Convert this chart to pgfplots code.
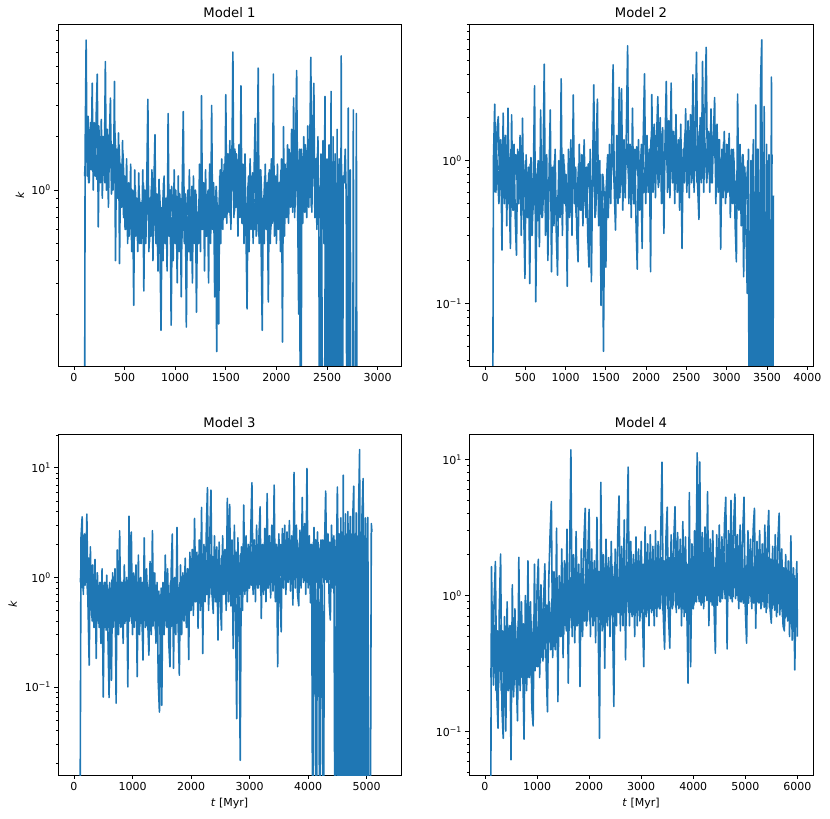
\documentclass[border=0pt]{standalone}
\usepackage{fontspec}
\setmainfont{DejaVu Sans}
\usepackage{pgfplots}
\pgfplotsset{compat=1.18}
\definecolor{mplblue}{HTML}{1F77B4}
\pgfplotsset{
    scale only axis,
    axis line style={line width=0.86pt},
    tick style={black, line width=0.86pt},
    minor tick style={black, line width=0.65pt},
    tick align=outside,
    tick pos=left,
    major tick length=3.76pt,
    minor tick length=2.15pt,
    tick label style={font=\fontsize{11}{13}\selectfont},
    every axis title/.style={at={(0.5,1)}, anchor=base, yshift=6.45pt, font=\fontsize{13.2}{15}\selectfont},
    /pgf/number format/assume math mode=true,
    /pgf/number format/1000 sep={},
    unbounded coords=jump,
}
\pgfplotsset{kline/.style={mplblue, line width=1.6pt, line join=round, mark=none}}
\begin{document}
\begin{tikzpicture}
% ---------------- Model 1 ----------------
\begin{axis}[ymode=log, at={(58pt,795pt)}, anchor=north west, width=343pt, height=342pt,
  minor ytick={0.01,0.02,0.03,0.04,0.05,0.06,0.07,0.08,0.09,0.2,0.3,0.4,0.5,0.6,0.7,0.8,0.9,2,3,4,5,6,7,8,9,20,30,40},
  title={Model 1}, xmin=-158, xmax=3231, ymin=0.102, ymax=8.63,
  xtick={0,500,1000,1500,2000,2500,3000},
  ytick={1}, yticklabels={10\textsuperscript{0}},
  ylabel={\textit{k}},
  every axis y label/.style={at={(axis description cs:-0.111,0.5)}, rotate=90, anchor=center, font=\fontsize{11}{13}\selectfont}]
\addplot[kline] coordinates {
(100,0.001)(110,1.6)(120,7.0)(130,1.2)(140,2.6)(150,1.1)(160,2.2)(170,1.3)(180,4.0)(190,1.0)
(200,2.4)(210,1.2)(220,2.7)(230,4.5)(240,0.62)(250,1.9)(260,1.1)(270,2.5)(280,0.9)(290,2.0)
(300,1.3)(310,5.3)(320,1.0)(330,2.2)(340,0.8)(350,1.9)(360,3.3)(370,0.95)(380,1.8)(390,1.1)
(400,4.1)(410,0.4)(420,1.7)(430,0.9)(440,2.1)(450,0.385)(460,1.4)(470,0.8)(480,1.9)(490,0.7)
(500,1.2)(510,0.6)(520,1.5)(530,0.5)(540,1.1)(550,0.65)(560,1.4)(570,0.45)(580,1.0)(590,0.224)
(600,1.3)(610,0.55)(620,0.9)(630,0.45)(640,1.25)(650,0.5)(660,0.85)(670,0.6)(680,1.3)(690,0.27)
(700,1.0)(710,0.5)(720,1.2)(730,3.25)(740,0.45)(750,0.9)(760,0.55)(770,1.3)(780,0.4)(790,1.1)
(800,2.05)(810,0.5)(820,0.95)(830,0.35)(840,1.15)(850,0.45)(860,0.162)(870,0.8)(880,0.4)(890,1.2)
(900,0.5)(910,0.9)(920,0.35)(930,2.7)(940,0.55)(950,1.0)(960,0.173)(970,0.7)(980,0.4)(990,1.3)
(1000,0.5)(1010,0.85)(1020,0.3)(1030,1.2)(1040,0.45)(1050,0.9)(1060,0.25)(1070,1.1)(1080,2.77)(1090,0.5)
(1100,0.95)(1110,0.169)(1120,0.7)(1130,0.45)(1140,1.3)(1150,0.4)(1160,0.9)(1170,0.3)(1180,1.2)(1190,0.5)
(1200,1.0)(1210,0.205)(1220,0.75)(1230,0.5)(1240,1.4)(1250,0.45)(1260,3.4)(1270,0.6)(1280,1.1)(1290,0.35)
(1300,1.3)(1310,0.55)(1320,0.95)(1330,0.3)(1340,1.4)(1350,0.5)(1360,3.0)(1370,0.6)(1380,1.1)(1390,0.25)
(1400,0.9)(1410,0.123)(1420,0.7)(1430,0.176)(1440,1.2)(1450,0.5)(1460,1.5)(1470,0.6)(1480,1.2)(1490,0.7)
(1500,3.45)(1510,0.65)(1520,1.6)(1530,0.75)(1540,1.9)(1550,0.6)(1560,1.4)(1570,6.0)(1580,0.7)(1590,1.7)
(1600,0.8)(1610,1.5)(1620,0.55)(1630,1.8)(1640,0.7)(1650,3.87)(1660,0.65)(1670,1.4)(1680,0.5)(1690,1.6)
(1700,0.55)(1710,0.214)(1720,1.1)(1730,0.45)(1740,1.5)(1750,0.6)(1760,1.2)(1770,0.5)(1780,1.3)(1790,2.54)
(1800,0.55)(1810,1.1)(1820,4.87)(1830,0.5)(1840,1.3)(1850,0.45)(1860,0.162)(1870,0.9)(1880,0.5)(1890,1.4)
(1900,0.6)(1910,1.1)(1920,0.234)(1930,1.3)(1940,0.5)(1950,1.5)(1960,0.65)(1970,4.5)(1980,0.55)(1990,1.2)
(2000,0.5)(2010,1.4)(2020,0.6)(2030,1.1)(2040,0.45)(2050,1.5)(2060,0.139)(2070,2.28)(2080,0.55)(2090,1.3)
(2100,0.7)(2110,1.8)(2120,0.65)(2130,1.5)(2140,0.8)(2150,2.2)(2160,0.75)(2170,3.3)(2180,0.7)(2190,1.9)
(2200,4.72)(2210,0.8)(2220,0.2)(2230,1.7)(2240,0.001)(2250,1.5)(2260,0.65)(2270,2.0)(2280,0.75)(2290,1.6)
(2300,0.7)(2310,2.3)(2320,0.8)(2330,1.8)(2340,5.6)(2350,0.75)(2360,1.9)(2370,4.0)(2380,0.7)(2390,1.5)
(2400,0.6)(2410,2.0)(2420,0.55)(2430,0.001)(2440,1.6)(2450,0.6)(2460,1.9)(2470,0.5)(2480,3.37)(2490,0.001)
(2500,1.5)(2510,0.001)(2520,1.8)(2530,0.001)(2540,3.6)(2550,0.001)(2560,2.0)(2570,0.001)(2580,1.6)(2590,0.001)
(2600,2.2)(2610,0.001)(2620,1.5)(2630,0.001)(2640,5.7)(2650,0.001)(2660,1.2)(2670,1.1)(2680,1.7)(2690,0.9)
(2700,0.001)(2710,2.9)(2720,0.001)(2730,1.3)(2740,0.001)(2750,0.001)(2760,2.83)(2770,0.001)(2780,0.001)(2790,2.7)
(2800,0.001)(2800,nan)
(105,1.2)(125,2.2)(145,1.1)(165,2.4)(185,1.3)(205,2.1)(225,1.15)(245,2.3)(265,1.2)(285,2.0)
(305,1.1)(325,2.2)(345,1.25)(365,1.9)(385,1.0)(405,2.1)(425,1.05)(445,1.8)(465,0.9)(485,1.6)
(505,0.6)(525,1.1)(545,0.55)(565,1.0)(585,0.5)(605,1.05)(625,0.55)(645,0.95)(665,0.5)(685,1.1)
(705,0.6)(725,1.0)(745,0.5)(765,1.05)(785,0.55)(805,0.95)(825,0.48)(845,1.0)(865,0.52)(885,1.1)
(905,0.5)(925,0.95)(945,0.55)(965,1.05)(985,0.5)(1005,1.0)(1025,0.55)(1045,0.95)(1065,0.5)(1085,1.1)
(1105,0.55)(1125,1.0)(1145,0.5)(1165,1.05)(1185,0.55)(1205,0.95)(1225,0.5)(1245,1.1)(1265,0.6)(1285,1.05)
(1305,0.55)(1325,1.0)(1345,0.6)(1365,1.1)(1385,0.55)(1405,1.05)(1425,0.6)(1445,1.3)(1465,0.7)(1485,1.4)
(1505,0.75)(1525,1.5)(1545,0.7)(1565,1.45)(1585,0.75)(1605,1.6)(1625,0.7)(1645,1.4)(1665,0.65)(1685,1.35)
(1705,0.6)(1725,1.2)(1745,0.65)(1765,1.25)(1785,0.6)(1805,1.2)(1825,0.55)(1845,1.3)(1865,0.6)(1885,1.2)
(1905,0.65)(1925,1.25)(1945,0.6)(1965,1.3)(1985,0.6)(2005,1.2)(2025,0.65)(2045,1.3)(2065,0.6)(2085,1.4)
(2105,0.8)(2125,1.7)(2145,0.85)(2165,1.8)(2185,0.8)(2205,1.9)(2225,0.75)(2245,1.7)(2265,0.8)(2285,1.8)
(2305,0.85)(2325,1.9)(2345,0.8)(2365,1.7)(2385,0.75)(2405,1.6)(2425,0.7)(2445,1.5)(2465,0.001)(2485,1.4)
(2505,0.001)(2525,1.3)(2545,0.001)(2565,1.45)(2585,0.001)(2605,1.3)(2625,0.001)(2645,1.4)
};
\end{axis}
% ---------------- Model 2 ----------------
\begin{axis}[ymode=log, at={(469pt,795pt)}, anchor=north west, width=344pt, height=342pt,
  minor ytick={0.01,0.02,0.03,0.04,0.05,0.06,0.07,0.08,0.09,0.2,0.3,0.4,0.5,0.6,0.7,0.8,0.9,2,3,4,5,6,7,8,9,20,30,40},
  title={Model 2}, xmin=-199, xmax=4071, ymin=0.0366, ymax=9.03,
  xtick={0,500,1000,1500,2000,2500,3000,3500,4000},
  ytick={0.1,1}, yticklabels={10\textsuperscript{−1},10\textsuperscript{0}}]
\addplot[kline] coordinates {
(90,0.001)(105,1.05)(120,2.48)(135,0.6)(150,1.7)(165,2.03)(180,0.7)(195,1.4)(210,0.237)(225,2.15)
(240,0.5)(255,1.5)(270,0.35)(285,2.33)(300,0.6)(315,0.243)(330,2.09)(345,0.45)(360,1.3)(375,0.4)
(390,0.218)(405,1.2)(420,0.5)(435,1.5)(450,0.3)(465,1.98)(480,0.45)(495,0.15)(510,1.1)(525,0.4)
(540,0.9)(555,0.138)(570,1.05)(585,0.3)(600,0.8)(615,3.34)(630,0.103)(645,0.7)(660,1.0)(675,0.25)
(690,2.26)(705,0.4)(720,0.9)(735,4.73)(750,0.3)(765,1.1)(780,0.2)(795,0.8)(810,2.26)(825,0.167)
(840,0.9)(855,0.35)(870,1.2)(885,0.3)(900,0.158)(915,1.0)(930,0.4)(945,3.74)(960,0.3)(975,1.1)
(990,0.5)(1005,0.8)(1020,0.132)(1035,1.2)(1050,0.4)(1065,1.4)(1080,0.3)(1095,2.88)(1110,0.5)(1125,0.9)
(1140,0.3)(1155,0.196)(1170,1.3)(1185,0.45)(1200,1.1)(1215,0.35)(1230,1.4)(1245,0.5)(1260,0.9)(1275,0.3)
(1290,0.18)(1305,1.2)(1320,0.142)(1335,0.8)(1350,3.39)(1365,0.4)(1380,1.3)(1395,2.69)(1410,0.35)(1425,1.0)
(1440,0.097)(1455,0.8)(1470,0.0464)(1485,0.6)(1500,0.18)(1515,0.9)(1530,0.4)(1545,1.3)(1560,0.5)(1575,1.6)
(1590,4.68)(1605,0.6)(1620,0.327)(1635,1.5)(1650,0.5)(1665,3.26)(1680,0.6)(1695,3.18)(1710,0.45)(1725,1.4)
(1740,0.55)(1755,1.7)(1770,6.36)(1785,0.5)(1800,1.3)(1815,0.4)(1830,2.33)(1845,0.5)(1860,1.2)(1875,0.35)
(1890,0.174)(1905,1.4)(1920,0.45)(1935,1.1)(1950,0.243)(1965,1.6)(1980,4.05)(1995,0.5)(2010,1.5)(2025,0.6)
(2040,1.2)(2055,0.167)(2070,2.9)(2085,0.6)(2100,1.8)(2115,0.55)(2130,1.5)(2145,2.8)(2160,0.7)(2175,2.0)
(2190,0.5)(2205,1.7)(2220,0.31)(2235,1.4)(2250,3.58)(2265,0.6)(2280,1.9)(2295,0.55)(2310,3.49)(2325,0.7)
(2340,1.6)(2355,0.5)(2370,2.1)(2385,0.6)(2400,1.4)(2415,0.45)(2430,1.8)(2445,0.243)(2460,1.2)(2475,0.7)
(2490,2.3)(2505,0.6)(2520,1.9)(2535,0.55)(2550,2.1)(2565,0.7)(2580,3.98)(2595,0.6)(2610,1.9)(2625,5.74)
(2640,0.65)(2655,0.388)(2670,2.0)(2685,0.7)(2700,4.94)(2715,0.6)(2730,2.2)(2745,6.2)(2760,0.8)(2775,1.6)
(2790,0.6)(2805,2.3)(2820,0.7)(2835,1.5)(2850,2.76)(2865,0.5)(2880,1.8)(2895,0.6)(2910,1.4)(2925,0.24)
(2940,1.2)(2955,0.55)(2970,1.6)(2985,0.5)(3000,1.3)(3015,0.6)(3030,1.55)(3045,0.4)(3060,1.2)(3075,0.5)
(3090,1.0)(3105,0.35)(3120,0.196)(3135,2.92)(3150,0.45)(3165,1.3)(3180,0.35)(3195,1.1)(3210,0.154)(3225,0.9)
(3240,0.3)(3255,0.118)(3270,1.2)(3285,0.001)(3300,1.0)(3315,0.001)(3330,1.4)(3345,0.001)(3360,2.45)(3375,0.001)
(3390,1.2)(3405,0.001)(3420,3.52)(3435,7.0)(3450,0.001)(3465,2.39)(3480,0.001)(3495,1.3)(3510,0.001)(3525,1.1)
(3540,0.001)(3555,3.84)(3570,0.001)(3580,0.57)(3580,nan)
(112,0.6)(142,1.2)(172,0.5)(202,1.3)(232,0.55)(262,1.1)(292,0.5)(322,1.2)(352,0.45)(382,1.1)
(412,0.5)(442,1.15)(472,0.45)(502,1.0)(532,0.4)(562,0.95)(592,0.42)(622,0.9)(652,0.38)(682,1.0)
(712,0.4)(742,0.95)(772,0.35)(802,0.9)(832,0.4)(862,1.0)(892,0.38)(922,0.9)(952,0.42)(982,0.95)
(1012,0.4)(1042,1.0)(1072,0.45)(1102,1.05)(1132,0.4)(1162,0.95)(1192,0.45)(1222,1.1)(1252,0.4)(1282,0.95)
(1312,0.38)(1342,1.0)(1372,0.42)(1402,1.05)(1432,0.35)(1462,0.8)(1492,0.45)(1522,1.1)(1552,0.55)(1582,1.3)
(1612,0.5)(1642,1.25)(1672,0.55)(1702,1.35)(1732,0.6)(1762,1.3)(1792,0.55)(1822,1.2)(1852,0.5)(1882,1.25)
(1912,0.55)(1942,1.3)(1972,0.6)(2002,1.4)(2032,0.65)(2062,1.45)(2092,0.7)(2122,1.5)(2152,0.65)(2182,1.55)
(2212,0.7)(2242,1.5)(2272,0.65)(2302,1.6)(2332,0.7)(2362,1.5)(2392,0.65)(2422,1.45)(2452,0.7)(2482,1.55)
(2512,0.7)(2542,1.6)(2572,0.75)(2602,1.7)(2632,0.7)(2662,1.6)(2692,0.75)(2722,1.65)(2752,0.7)(2782,1.55)
(2812,0.7)(2842,1.5)(2872,0.65)(2902,1.4)(2932,0.6)(2962,1.35)(2992,0.55)(3022,1.3)(3052,0.5)(3082,1.2)
(3112,0.5)(3142,1.15)(3172,0.45)(3202,1.1)(3232,0.45)(3262,1.0)(3292,0.001)(3322,1.1)(3352,0.001)(3382,1.2)
(3412,0.001)(3442,1.15)(3472,0.001)(3502,1.0)(3532,0.001)(3562,1.1)
};
\end{axis}
% ---------------- Model 3 ----------------
\begin{axis}[ymode=log, at={(58pt,385pt)}, anchor=north west, width=343pt, height=341pt,
  minor ytick={0.01,0.02,0.03,0.04,0.05,0.06,0.07,0.08,0.09,0.2,0.3,0.4,0.5,0.6,0.7,0.8,0.9,2,3,4,5,6,7,8,9,20,30,40},
  title={Model 3}, xmin=-273, xmax=5587, ymin=0.0157, ymax=20.4,
  xtick={0,1000,2000,3000,4000,5000},
  ytick={0.1,1,10}, yticklabels={10\textsuperscript{−1},10\textsuperscript{0},10\textsuperscript{1}},
  ylabel={\textit{k}}, xlabel={\textit{t} [Myr]},
  every axis y label/.style={at={(axis description cs:-0.132,0.5)}, rotate=90, anchor=center, font=\fontsize{11}{13}\selectfont},
  every axis x label/.style={at={(axis description cs:0.5,-0.082)}, anchor=center, font=\fontsize{11}{13}\selectfont}]
\addplot[kline] coordinates {
(100,0.001)(120,2.3)(140,3.58)(160,0.7)(180,2.5)(200,0.9)(220,3.79)(240,0.55)(260,0.158)(280,1.9)
(300,0.5)(320,1.3)(340,0.35)(360,1.46)(380,0.182)(400,1.1)(420,0.4)(440,0.9)(460,0.25)(480,1.2)
(500,0.081)(520,0.9)(540,0.35)(560,1.05)(580,0.3)(600,0.08)(620,0.8)(640,0.115)(660,1.1)(680,0.4)
(700,1.2)(720,0.071)(740,1.78)(760,0.3)(780,2.67)(800,0.35)(820,0.9)(840,0.25)(860,1.3)(880,0.4)
(900,1.0)(920,0.1)(940,3.63)(960,0.5)(980,2.6)(1000,0.3)(1020,1.1)(1040,0.4)(1060,1.3)(1080,0.124)
(1100,1.6)(1120,0.3)(1140,1.0)(1160,0.45)(1180,0.176)(1200,2.3)(1220,0.35)(1240,1.2)(1260,0.4)(1280,0.195)
(1300,1.4)(1320,0.3)(1340,2.67)(1360,0.4)(1380,1.1)(1400,0.25)(1420,0.9)(1440,0.111)(1460,0.059)(1480,0.6)
(1500,0.068)(1520,0.9)(1540,0.3)(1560,1.6)(1580,0.4)(1600,1.2)(1620,0.25)(1640,0.153)(1660,1.1)(1680,2.49)
(1700,0.148)(1720,1.0)(1740,0.3)(1760,2.86)(1780,0.35)(1800,0.128)(1820,1.3)(1840,0.3)(1860,1.1)(1880,0.4)
(1900,1.5)(1920,0.35)(1940,1.2)(1960,0.178)(1980,1.7)(2000,0.5)(2020,1.8)(2040,0.45)(2060,3.46)(2080,0.6)
(2100,1.7)(2120,0.343)(2140,2.2)(2160,0.5)(2180,4.36)(2200,0.202)(2220,2.0)(2240,0.6)(2260,2.5)(2280,6.6)
(2300,0.5)(2320,2.3)(2340,6.27)(2360,0.7)(2380,0.469)(2400,2.4)(2420,0.6)(2440,1.9)(2460,0.268)(2480,2.1)
(2500,0.6)(2520,0.33)(2540,2.4)(2560,0.7)(2580,1.8)(2600,0.5)(2620,5.27)(2640,0.6)(2660,4.64)(2680,0.55)
(2700,2.2)(2720,0.224)(2740,3.0)(2760,0.5)(2780,0.0513)(2800,2.3)(2820,0.6)(2840,0.0214)(2860,1.9)(2880,0.5)
(2900,4.58)(2920,0.7)(2940,2.4)(2960,0.6)(2980,2.0)(3000,0.8)(3020,2.6)(3040,7.33)(3060,0.7)(3080,2.2)
(3100,0.6)(3120,3.0)(3140,0.8)(3160,2.3)(3180,4.42)(3200,0.422)(3220,2.0)(3240,0.7)(3260,2.8)(3280,0.6)
(3300,5.84)(3320,0.8)(3340,2.4)(3360,0.65)(3380,3.0)(3400,0.75)(3420,6.97)(3440,0.6)(3460,2.0)(3480,0.153)
(3500,2.5)(3520,0.7)(3540,0.319)(3560,2.8)(3580,0.8)(3600,3.0)(3620,0.7)(3640,2.6)(3660,0.9)(3680,3.3)
(3700,0.75)(3720,2.4)(3740,0.559)(3760,9.1)(3780,0.8)(3800,3.0)(3820,0.7)(3840,0.55)(3860,2.7)(3880,0.8)
(3900,5.38)(3920,0.9)(3940,3.1)(3960,0.7)(3980,9.9)(4000,0.8)(4020,2.4)(4040,0.587)(4060,2.0)(4080,0.001)
(4100,2.86)(4120,0.9)(4140,0.001)(4160,2.6)(4180,0.8)(4200,0.001)(4220,2.2)(4240,0.7)(4260,0.001)(4280,1.8)
(4300,6.14)(4320,0.9)(4340,2.5)(4360,0.6)(4380,0.408)(4400,3.0)(4420,0.8)(4440,2.4)(4460,0.001)(4480,0.9)
(4500,6.7)(4520,0.6)(4540,0.001)(4560,3.5)(4580,0.001)(4600,8.6)(4620,0.001)(4640,3.8)(4660,0.001)(4680,4.0)
(4700,0.001)(4720,3.6)(4740,0.001)(4760,3.2)(4780,6.8)(4800,0.001)(4820,3.9)(4840,0.001)(4860,3.4)(4880,14.7)
(4900,0.001)(4920,3.6)(4940,8.0)(4960,0.001)(4980,3.5)(5000,0.001)(5020,3.53)(5040,0.001)(5060,0.001)(5080,3.1)
(5090,2.6)(5090,nan)
(110,0.9)(130,2.0)(150,0.8)(170,2.1)(190,0.85)(210,1.9)(230,0.7)(250,1.5)(270,0.45)(290,1.1)
(310,0.4)(330,0.95)(350,0.35)(370,0.9)(390,0.38)(410,0.85)(430,0.35)(450,0.9)(470,0.32)(490,0.85)
(510,0.35)(530,0.9)(550,0.33)(570,0.85)(590,0.35)(610,0.9)(630,0.38)(650,0.95)(670,0.35)(690,0.9)
(710,0.33)(730,0.85)(750,0.36)(770,0.95)(790,0.38)(810,0.9)(830,0.35)(850,0.95)(870,0.38)(890,0.9)
(910,0.35)(930,0.95)(950,0.4)(970,1.0)(990,0.38)(1010,0.9)(1030,0.35)(1050,0.95)(1070,0.38)(1090,0.9)
(1110,0.35)(1130,0.85)(1150,0.38)(1170,0.9)(1190,0.4)(1210,0.95)(1230,0.36)(1250,0.9)(1270,0.38)(1290,0.95)
(1310,0.4)(1330,1.0)(1350,0.36)(1370,0.9)(1390,0.33)(1410,0.85)(1430,0.3)(1450,0.75)(1470,0.3)(1490,0.8)
(1510,0.33)(1530,0.85)(1550,0.36)(1570,0.9)(1590,0.35)(1610,0.85)(1630,0.33)(1650,0.9)(1670,0.36)(1690,0.95)
(1710,0.35)(1730,0.9)(1750,0.38)(1770,0.95)(1790,0.36)(1810,0.9)(1830,0.4)(1850,1.0)(1870,0.42)(1890,1.05)
(1910,0.45)(1930,1.1)(1950,0.48)(1970,1.2)(1990,0.5)(2010,1.3)(2030,0.55)(2050,1.4)(2070,0.6)(2090,1.5)
(2110,0.6)(2130,1.55)(2150,0.65)(2170,1.6)(2190,0.6)(2210,1.5)(2230,0.65)(2250,1.6)(2270,0.7)(2290,1.7)
(2310,0.65)(2330,1.6)(2350,0.7)(2370,1.55)(2390,0.65)(2410,1.5)(2430,0.6)(2450,1.45)(2470,0.6)(2490,1.5)
(2510,0.65)(2530,1.6)(2550,0.7)(2570,1.65)(2590,0.7)(2610,1.7)(2630,0.75)(2650,1.8)(2670,0.7)(2690,1.65)
(2710,0.65)(2730,1.6)(2750,0.7)(2770,1.7)(2790,0.65)(2810,1.6)(2830,0.7)(2850,1.65)(2870,0.75)(2890,1.7)
(2910,0.75)(2930,1.8)(2950,0.8)(2970,1.85)(2990,0.8)(3010,1.9)(3030,0.85)(3050,2.0)(3070,0.8)(3090,1.9)
(3110,0.85)(3130,2.0)(3150,0.8)(3170,1.95)(3190,0.75)(3210,1.9)(3230,0.8)(3250,2.0)(3270,0.85)(3290,2.1)
(3310,0.8)(3330,2.0)(3350,0.85)(3370,2.05)(3390,0.9)(3410,2.1)(3430,0.85)(3450,2.0)(3470,0.8)(3490,1.9)
(3510,0.85)(3530,2.0)(3550,0.9)(3570,2.1)(3590,0.95)(3610,2.2)(3630,0.9)(3650,2.1)(3670,0.95)(3690,2.2)
(3710,0.9)(3730,2.1)(3750,0.95)(3770,2.3)(3790,1.0)(3810,2.2)(3830,0.9)(3850,2.1)(3870,0.95)(3890,2.2)
(3910,1.0)(3930,2.3)(3950,0.95)(3970,2.2)(3990,0.9)(4010,2.1)(4030,0.85)(4050,2.0)(4070,0.8)(4090,2.1)
(4110,0.85)(4130,2.2)(4150,0.9)(4170,2.1)(4190,0.8)(4210,2.0)(4230,0.85)(4250,2.2)(4270,0.9)(4290,2.3)
(4310,0.95)(4330,2.2)(4350,0.9)(4370,2.1)(4390,0.85)(4410,2.3)(4430,0.9)(4450,2.2)(4470,0.85)(4490,2.4)
(4510,0.001)(4530,2.5)(4550,0.001)(4570,2.6)(4590,0.001)(4610,2.4)(4630,0.001)(4650,2.5)(4670,0.001)(4690,2.7)
(4710,0.001)(4730,2.5)(4750,0.001)(4770,2.6)(4790,0.001)(4810,2.5)(4830,0.001)(4850,2.4)(4870,0.001)(4890,2.6)
(4910,0.001)(4930,2.5)(4950,0.001)(4970,2.4)(4990,0.001)(5010,2.3)
};
\end{axis}
% ---------------- Model 4 ----------------
\begin{axis}[ymode=log, at={(469pt,385pt)}, anchor=north west, width=344pt, height=341pt,
  minor ytick={0.01,0.02,0.03,0.04,0.05,0.06,0.07,0.08,0.09,0.2,0.3,0.4,0.5,0.6,0.7,0.8,0.9,2,3,4,5,6,7,8,9,20,30,40},
  title={Model 4}, xmin=-307, xmax=6300, ymin=0.048, ymax=15.4,
  xtick={0,1000,2000,3000,4000,5000,6000},
  ytick={0.1,1,10}, yticklabels={10\textsuperscript{−1},10\textsuperscript{0},10\textsuperscript{1}},
  xlabel={\textit{t} [Myr]},
  every axis x label/.style={at={(axis description cs:0.5,-0.082)}, anchor=center, font=\fontsize{11}{13}\selectfont}]
\addplot[kline] coordinates {
(100,0.001)(125,1.63)(150,0.3)(175,0.9)(200,1.78)(225,0.2)(250,0.106)(275,0.8)(300,2.02)(325,0.15)
(350,0.0894)(375,0.7)(400,0.101)(425,0.9)(450,0.2)(475,0.6)(500,0.062)(525,1.2)(550,0.18)(575,0.8)
(600,0.25)(625,0.12)(650,1.91)(675,0.2)(700,0.9)(725,0.3)(750,0.088)(775,1.0)(800,0.2)(825,1.8)
(850,0.25)(875,0.9)(900,0.15)(925,0.11)(950,1.7)(975,0.3)(1000,1.1)(1025,1.85)(1050,0.25)(1075,1.2)
(1100,0.35)(1125,0.9)(1150,1.71)(1175,0.3)(1200,0.14)(1225,1.3)(1250,2.79)(1275,4.9)(1300,0.35)(1325,1.5)
(1350,0.4)(1375,3.13)(1400,0.166)(1425,1.4)(1450,0.5)(1475,2.2)(1500,0.35)(1525,1.8)(1550,0.6)(1575,3.07)
(1600,0.227)(1625,1.9)(1650,11.8)(1675,0.5)(1700,2.0)(1725,0.45)(1750,2.96)(1775,0.6)(1800,1.7)(1825,0.214)
(1850,2.2)(1875,0.5)(1900,2.5)(1925,4.38)(1950,0.6)(1975,1.9)(2000,4.3)(2025,0.5)(2050,2.2)(2075,0.6)
(2100,1.8)(2125,0.45)(2150,3.76)(2175,0.6)(2200,0.0894)(2225,6.8)(2250,0.55)(2275,2.0)(2300,0.292)(2325,2.6)
(2350,0.6)(2375,1.9)(2400,0.5)(2425,2.5)(2450,0.7)(2475,0.153)(2500,2.2)(2525,0.6)(2550,2.8)(2575,5.4)
(2600,0.55)(2625,2.3)(2650,0.6)(2675,3.6)(2700,0.337)(2725,2.4)(2750,8.8)(2775,0.6)(2800,2.5)(2825,0.7)
(2850,2.0)(2875,0.5)(2900,2.7)(2925,0.6)(2950,2.2)(2975,0.65)(3000,2.5)(3025,0.7)(3050,0.3)(3075,3.2)
(3100,0.7)(3125,2.4)(3150,0.6)(3175,2.8)(3200,0.75)(3225,2.3)(3250,0.6)(3275,3.0)(3300,0.7)(3325,2.5)
(3350,0.8)(3375,2.8)(3400,9.55)(3425,0.7)(3450,0.403)(3475,2.6)(3500,4.46)(3525,0.7)(3550,0.41)(3575,2.8)
(3600,0.8)(3625,2.5)(3650,4.5)(3675,0.75)(3700,2.9)(3725,0.8)(3750,2.6)(3775,0.6)(3800,3.5)(3825,0.7)
(3850,2.7)(3875,0.9)(3900,0.227)(3925,5.71)(3950,0.3)(3975,2.4)(4000,0.8)(4025,3.0)(4050,0.9)(4075,11.2)
(4100,1.0)(4125,9.6)(4150,0.85)(4175,2.9)(4200,0.8)(4225,3.2)(4250,1.0)(4275,5.8)(4300,0.6)(4325,2.6)
(4350,0.9)(4375,3.0)(4400,0.8)(4425,0.377)(4450,2.8)(4475,1.0)(4500,3.3)(4525,0.9)(4550,2.7)(4575,1.1)
(4600,3.4)(4625,5.28)(4650,0.405)(4675,3.0)(4700,1.0)(4725,5.0)(4750,0.9)(4775,3.2)(4800,5.58)(4825,1.0)
(4850,2.8)(4875,0.8)(4900,3.3)(4925,0.9)(4950,2.9)(4975,5.28)(5000,0.8)(5025,0.446)(5050,3.0)(5075,1.0)
(5100,2.6)(5125,0.8)(5150,3.0)(5175,4.38)(5200,0.575)(5225,2.5)(5250,0.9)(5275,3.0)(5300,0.8)(5325,2.4)
(5350,0.9)(5375,3.3)(5400,0.75)(5425,2.6)(5450,4.22)(5475,0.8)(5500,0.626)(5525,2.3)(5550,0.85)(5575,2.8)
(5600,0.7)(5625,2.5)(5650,4.03)(5675,0.8)(5700,2.2)(5725,0.6)(5750,0.55)(5775,2.0)(5800,0.7)(5825,1.8)
(5850,0.5)(5875,2.75)(5900,0.47)(5925,1.6)(5950,0.284)(5975,1.3)(5990,1.78)(6000,0.5)(6000,nan)
(112.5,0.25)(137.5,0.7)(162.5,0.22)(187.5,0.6)(212.5,0.2)(237.5,0.55)(262.5,0.22)(287.5,0.6)(312.5,0.2)(337.5,0.55)
(362.5,0.22)(387.5,0.6)(412.5,0.2)(437.5,0.58)(462.5,0.22)(487.5,0.6)(512.5,0.24)(537.5,0.62)(562.5,0.22)(587.5,0.6)
(612.5,0.24)(637.5,0.65)(662.5,0.22)(687.5,0.6)(712.5,0.25)(737.5,0.62)(762.5,0.23)(787.5,0.65)(812.5,0.25)(837.5,0.68)
(862.5,0.26)(887.5,0.65)(912.5,0.25)(937.5,0.7)(962.5,0.28)(987.5,0.72)(1012.5,0.3)(1037.5,0.75)(1062.5,0.32)(1087.5,0.8)
(1112.5,0.33)(1137.5,0.8)(1162.5,0.35)(1187.5,0.85)(1212.5,0.36)(1237.5,0.9)(1262.5,0.4)(1287.5,0.95)(1312.5,0.42)(1337.5,1.0)
(1362.5,0.45)(1387.5,1.05)(1412.5,0.48)(1437.5,1.1)(1462.5,0.5)(1487.5,1.2)(1512.5,0.52)(1537.5,1.25)(1562.5,0.55)(1587.5,1.3)
(1612.5,0.55)(1637.5,1.35)(1662.5,0.58)(1687.5,1.4)(1712.5,0.6)(1737.5,1.35)(1762.5,0.6)(1787.5,1.4)(1812.5,0.62)(1837.5,1.45)
(1862.5,0.6)(1887.5,1.5)(1912.5,0.65)(1937.5,1.5)(1962.5,0.65)(1987.5,1.55)(2012.5,0.65)(2037.5,1.6)(2062.5,0.7)(2087.5,1.55)
(2112.5,0.65)(2137.5,1.6)(2162.5,0.7)(2187.5,1.5)(2212.5,0.6)(2237.5,1.55)(2262.5,0.7)(2287.5,1.6)(2312.5,0.65)(2337.5,1.65)
(2362.5,0.7)(2387.5,1.6)(2412.5,0.72)(2437.5,1.7)(2462.5,0.7)(2487.5,1.65)(2512.5,0.72)(2537.5,1.7)(2562.5,0.75)(2587.5,1.75)
(2612.5,0.72)(2637.5,1.7)(2662.5,0.75)(2687.5,1.65)(2712.5,0.7)(2737.5,1.75)(2762.5,0.75)(2787.5,1.8)(2812.5,0.75)(2837.5,1.7)
(2862.5,0.72)(2887.5,1.75)(2912.5,0.75)(2937.5,1.8)(2962.5,0.78)(2987.5,1.8)(3012.5,0.75)(3037.5,1.7)(3062.5,0.72)(3087.5,1.75)
(3112.5,0.78)(3137.5,1.8)(3162.5,0.8)(3187.5,1.85)(3212.5,0.78)(3237.5,1.8)(3262.5,0.8)(3287.5,1.9)(3312.5,0.82)(3337.5,1.85)
(3362.5,0.8)(3387.5,1.9)(3412.5,0.78)(3437.5,1.8)(3462.5,0.75)(3487.5,1.85)(3512.5,0.8)(3537.5,1.9)(3562.5,0.82)(3587.5,1.95)
(3612.5,0.85)(3637.5,1.9)(3662.5,0.82)(3687.5,1.95)(3712.5,0.85)(3737.5,2.0)(3762.5,0.82)(3787.5,1.95)(3812.5,0.8)(3837.5,1.85)
(3862.5,0.75)(3887.5,1.7)(3912.5,0.7)(3937.5,1.75)(3962.5,0.8)(3987.5,1.9)(4012.5,0.85)(4037.5,2.0)(4062.5,0.9)(4087.5,2.1)
(4112.5,0.9)(4137.5,2.05)(4162.5,0.88)(4187.5,2.0)(4212.5,0.9)(4237.5,2.1)(4262.5,0.92)(4287.5,2.05)(4312.5,0.88)(4337.5,2.0)
(4362.5,0.85)(4387.5,1.95)(4412.5,0.8)(4437.5,1.9)(4462.5,0.85)(4487.5,2.0)(4512.5,0.9)(4537.5,2.1)(4562.5,0.95)(4587.5,2.2)
(4612.5,0.95)(4637.5,2.15)(4662.5,0.9)(4687.5,2.2)(4712.5,0.95)(4737.5,2.25)(4762.5,0.98)(4787.5,2.2)(4812.5,0.95)(4837.5,2.15)
(4862.5,0.92)(4887.5,2.1)(4912.5,0.9)(4937.5,2.05)(4962.5,0.88)(4987.5,2.0)(5012.5,0.85)(5037.5,1.95)(5062.5,0.88)(5087.5,2.0)
(5112.5,0.9)(5137.5,2.0)(5162.5,0.88)(5187.5,1.95)(5212.5,0.85)(5237.5,1.9)(5262.5,0.88)(5287.5,1.95)(5312.5,0.85)(5337.5,1.9)
(5362.5,0.82)(5387.5,1.85)(5412.5,0.8)(5437.5,1.9)(5462.5,0.82)(5487.5,1.85)(5512.5,0.8)(5537.5,1.8)(5562.5,0.78)(5587.5,1.75)
(5612.5,0.75)(5637.5,1.7)(5662.5,0.72)(5687.5,1.65)(5712.5,0.7)(5737.5,1.6)(5762.5,0.68)(5787.5,1.55)(5812.5,0.65)(5837.5,1.5)
(5862.5,0.62)(5887.5,1.45)(5912.5,0.6)(5937.5,1.4)(5962.5,0.58)(5987.5,1.3)
};
\end{axis}
\pgfresetboundingbox
\path (0pt,0pt) rectangle (830pt,819pt);
\end{tikzpicture}
\end{document}
